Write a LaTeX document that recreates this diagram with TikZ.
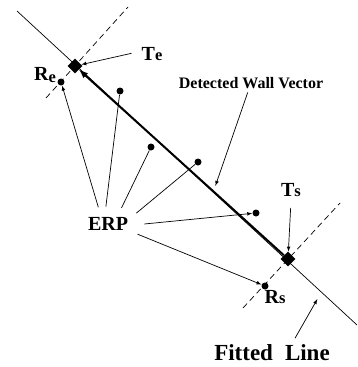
\documentclass[tikz,border=0pt]{standalone}
\usepackage{fontspec}
\setmainfont{Liberation Serif}
\usetikzlibrary{shapes.geometric}
\usetikzlibrary{calc}
\tikzset{>=latex}
\tikzset{
  erpdot/.style={circle, fill=black, inner sep=0pt, minimum size=7pt},
  endpt/.style={diamond, fill=black, inner sep=0pt, minimum size=15pt},
  lab/.style={font=\bfseries\fontsize{20}{20}\selectfont, inner sep=4pt},
  perp/.style={dash pattern=on 6pt off 4pt},
  thin line/.style={line width=0.7pt}
}
\newcommand{\smalllet}[1]{{\fontsize{16.5}{16.5}\selectfont #1}}

\begin{document}
\begin{tikzpicture}[x=1pt, y=-1pt, thin line]
      \useasboundingbox (0,0) rectangle (358,367);
      % fitted line and the two perpendiculars
      \coordinate (fitA) at (17,11);
      \coordinate (fitB) at (357,325);
      \coordinate (perpEa) at (46,98);
      \coordinate (perpEb) at (128,7);
      \coordinate (perpSa) at (243,308);
      \coordinate (perpSb) at (340,203);
      \draw (fitA) -- (fitB);
      \draw[perp] (perpEa) -- (perpEb);
      \draw[perp] (perpSa) -- (perpSb);
      % wall vector
      \node[endpt] (te) at (75,66) {};
      \node[endpt] (ts) at (288,259) {};
      \draw[->, line width=2pt] (ts) -- (te);
      % ERP points
      \node[erpdot] (re) at (61,82) {};
      \node[erpdot] (e1) at (120,91) {};
      \node[erpdot] (e2) at (151,147) {};
      \node[erpdot] (e3) at (198,162) {};
      \node[erpdot] (e4) at (256,213) {};
      \node[erpdot] (rs) at (265,286) {};
      \node[ellipse, minimum width=72pt, minimum height=34pt, inner sep=0pt,
            font=\bfseries\fontsize{20}{20}\selectfont] (erp) at (108,224) {ERP};
      \draw[->] (erp.120) -- (re);
      \draw (erp.97) -- (e1);
      \draw (erp.50) -- (e2);
      \draw (erp.21) -- (e3);
      \draw[->] (erp.0) -- (e4);
      \draw[->] (erp.-19) -- (rs);
      % labels
      \node[lab] (telab) at (152,54) {T\smalllet{e}};
      \draw[->, shorten <=6pt] ([yshift=2pt]telab.west) -- (te);
      \node[lab] (tslab) at (291,190) {T\smalllet{s}};
      \draw[->, shorten <=7pt] (tslab.south) -- (ts);
      \node[lab] (relab) at (45,75) {R\raisebox{-1.5pt}{\smalllet{e}}};
      \node[lab] (rslab) at (275,297) {R\smalllet{s}};
      \node[font=\bfseries\fontsize{16}{16}\selectfont] (wall) at (251,83) {Detected Wall Vector};
      \coordinate (wallhit) at ($(te)!0.65!(ts)$);
      \draw[->, shorten >=6pt] (wall) -- (wallhit);
      \node[font=\bfseries\fontsize{23}{23}\selectfont] (fitlab) at (272,353) {Fitted\hspace{12pt}Line};
      \coordinate (fithit) at ($(ts)!0.49!(fitB)$);
      \draw[->, shorten >=9pt] ([xshift=23pt, yshift=3pt]fitlab.north) -- (fithit);
\end{tikzpicture}
\end{document}
